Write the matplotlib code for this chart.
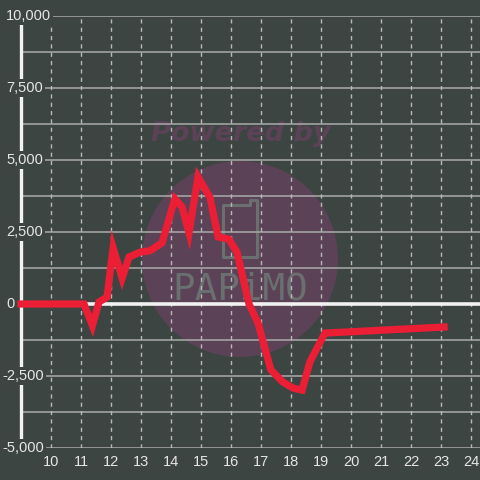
import matplotlib.pyplot as plt
from matplotlib.patches import Circle, Polygon
from matplotlib.transforms import IdentityTransform

# data
xs = [9, 11.1, 11.38, 11.6, 11.87, 12.07, 12.37, 12.6, 12.97, 13.3, 13.7, 14.13, 14.37, 14.6,
      14.9, 15.3, 15.57, 15.93, 16.2, 16.6, 16.9, 17.33, 17.73, 18.07, 18.37, 18.63, 19.13, 23.1]
ys = [0, 0, -750, 70, 240, 1950, 900, 1630, 1800, 1850, 2120, 3650, 3370, 2470,
      4410, 3700, 2330, 2250, 1800, 0, -660, -2290, -2710, -2920, -2990, -2010, -1010, -800]
xticks = list(range(10, 25))
yticks = [-5000, -2500, 0, 2500, 5000, 7500, 10000]
ylabels = ['-5,000', '-2,500', '0', '2,500', '5,000', '7,500', '10,000']
yminor = [-3750, -1250, 1250, 3750, 6250, 8750]

bg = '#3d4543'
red = '#ec1e35'
wm = '#5c4256'
logo = '#6a6f70'

plt.rcParams['font.family'] = ['Liberation Sans', 'DejaVu Sans']

fig = plt.figure(figsize=(4.8, 4.8), dpi=100, facecolor=bg)
ax = fig.add_axes([21 / 480, 32 / 480, 459 / 480, 432 / 480])
ax.set_facecolor(bg)
ax.set_xlim(9, 9 + 459 / 30)
ax.set_ylim(-5000, 10000)

# watermark, in pixels from the bottom left
px = IdentityTransform()
ax.add_patch(Circle((240, 221), 98, transform=px, facecolor=wm, edgecolor='none', zorder=0.5))
ax.text(241, 480 - 134, 'Powered by', transform=px, color=wm, fontsize=19.5,
        fontweight='bold', fontstyle='italic', family='DejaVu Sans',
        ha='center', va='center', zorder=0.5)
ax.text(240, 480 - 289, 'PAPiMO', transform=px, color=logo, fontsize=27,
        family='DejaVu Sans Mono', ha='center', va='center', zorder=0.6)
phone = [(223, 480 - 205), (250, 480 - 205), (250, 480 - 200), (257, 480 - 200),
         (257, 480 - 257), (223, 480 - 257)]
ax.add_patch(Polygon(phone, closed=True, transform=px, fill=False,
                     edgecolor=logo, lw=2.2, joinstyle='round', zorder=0.6))

# grid
for y in yticks + yminor:
    ax.axhline(y, color='#a3a3a3', lw=1.2, zorder=1)
for x in xticks:
    ax.axvline(x, color='#b8b8b8', lw=1, ls=(0, (3, 3)), zorder=1)
ax.axhline(0, color='#f2f2f2', lw=2.6, zorder=2)

ax.plot(xs, ys, color=red, lw=5.2, solid_capstyle='projecting',
        solid_joinstyle='miter', zorder=3, clip_on=False)

for s in ['top', 'right', 'bottom']:
    ax.spines[s].set_visible(False)
ax.spines['left'].set_color('#f2f2f2')
ax.spines['left'].set_linewidth(2.4)
ax.spines['left'].set_zorder(2)

ax.set_xticks(xticks)
ax.set_xticklabels([str(x) for x in xticks])
ax.set_yticks([])
ax.tick_params(axis='x', length=0, colors='#e6e6e6', labelsize=10.5, pad=5)

# y labels sit on a patch of background over the axis line
ytr = ax.get_yaxis_transform()
for y, lab in zip(yticks, ylabels):
    x0 = (2 - 21) / 459 if lab.startswith('-') else (6 - 21) / 459
    ax.text(x0, y, lab, transform=ytr, color='#e6e6e6', fontsize=10.5,
            ha='left', va='center', zorder=5, clip_on=False,
            bbox=dict(facecolor=bg, edgecolor='none', pad=1.5))

fig.savefig('out.png', dpi=100, facecolor=bg)
